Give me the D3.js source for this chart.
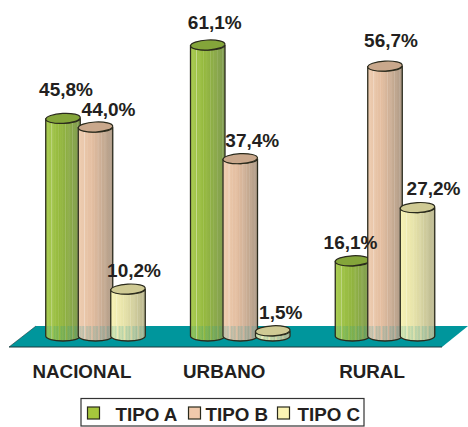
<!DOCTYPE html>
<html><head><meta charset="utf-8">
<script src="https://cdnjs.cloudflare.com/ajax/libs/d3/7.8.5/d3.min.js"></script>
<style>html,body{margin:0;padding:0;background:#fff}svg{display:block}
text{font-family:"Liberation Sans",Arial,sans-serif;font-weight:bold;fill:#231f20}</style>
</head><body><svg id="c" width="468" height="427"></svg>
<script>
const categories = ["NACIONAL","URBANO","RURAL"];
const seriesNames = ["TIPO A","TIPO B","TIPO C"];
const tipoA = [45.8,61.1,16.1];
const tipoB = [44.0,37.4,56.7];
const tipoC = [10.2,1.5,27.2];
const allSeries = [tipoA,tipoB,tipoC];
const bodyLeft = ["#a9cc50","#eecdb0","#f8f3b5"];
const bodyMid = ["#94b83c","#e3bd9f","#e6e2a8"];
const bodyRight = ["#7f9a50","#ad9a86","#b9b68f"];
const capFill = ["#84a53a","#c9a88c","#cfca94"];
const swatchFill = ["#a6c63c","#f0c9ab","#fbf4b4"];
// label nudges relative to the bar centre / top (dx, dy)
const labelDx = [[3,13,6],[7,12,8],[-2,6,16]];
const labelDy = [[-22,-11,-12],[-16,-12,-12],[-12,-19,-13]];
const catDx = [-13.5,-16,-13];
const stripes = [0,.1,.05,.9,.1,.2,.05,.3,.1,.2,.05,.4,.1,.3,.05,.35,.1,.05,.3,.1];

const svg = d3.select("#c");
const x = d3.scalePoint().domain(categories).range([95.5,385]);
const off = d3.scalePoint().domain(seriesNames).range([-32.5,32.5]);
const y = d3.scaleLinear().domain([0,61.1]).range([338,45]);
const rx=17.25, ry=5, baseY=336, tilt=-3;
const floorTop=326, floorBot=347;

const defs = svg.append("defs");
seriesNames.forEach((s,i)=>{
  const g = defs.append("linearGradient").attr("id","g"+i);
  const ramp = d3.scaleLinear().domain([0,.4,1]).range([bodyLeft[i],bodyMid[i],bodyRight[i]]);
  g.selectAll("stop").data(d3.range(0,41)).enter().append("stop")
    .attr("offset",d=>d/40)
    .attr("stop-color",d=>{
      const t=d/40, c=ramp(t), k=stripes[Math.floor(d/2)%stripes.length];
      return d3.interpolateRgb(c,d%2?"#fff":c)(k*.45);
    });
});
const floorG = defs.append("linearGradient").attr("id","fl");
d3.range(0,21).forEach(d=>floorG.append("stop").attr("offset",d/20)
  .attr("stop-color","#0a9aa0").attr("stop-opacity",d%2?.22:.06*(d%4)));

svg.append("path").attr("d",d3.line()([[9,floorBot],[36,floorTop],[468,floorTop],[442,floorBot]])+"Z")
  .attr("fill","#00969c");
svg.append("path").attr("d",d3.line()([[9,floorBot],[442,floorBot]])).attr("stroke","#1d3a3e").attr("stroke-width",1.2);
svg.append("path").attr("d",d3.line()([[9,floorBot],[36,floorTop]])).attr("stroke","#1d3a3e").attr("stroke-width",.6);

categories.forEach((cat,ci)=>{
  seriesNames.forEach((s,si)=>{
    const v=allSeries[si][ci], cx=x(cat)+off(s), ty=y(v);
    const l=cx-rx, r=cx+rx;
    const d=`M${l},${ty}L${l},${baseY}A${rx},${ry} 0 0 0 ${r},${baseY}L${r},${ty}A${rx},${ry} 0 0 1 ${l},${ty}Z`;
    const g=svg.append("g");
    g.append("path").attr("d",d).attr("fill",`url(#g${si})`);
    const ft=Math.max(ty,floorTop);
    g.append("path").attr("d",`M${l},${ft}L${l},${baseY}A${rx},${ry} 0 0 0 ${r},${baseY}L${r},${ft}Z`).attr("fill","url(#fl)");
    g.append("path").attr("d",d).attr("fill","none").attr("stroke","#2a2a1c").attr("stroke-width",1.3);
    g.append("ellipse").attr("cx",cx).attr("cy",ty).attr("rx",rx).attr("ry",ry)
      .attr("transform",`rotate(${tilt} ${cx} ${ty})`)
      .attr("fill",capFill[si]).attr("stroke","#2a2a1c").attr("stroke-width",1.2);
  });
});
categories.forEach((cat,ci)=>{
  seriesNames.forEach((s,si)=>{
    const v=allSeries[si][ci];
    svg.append("text").attr("x",x(cat)+off(s)+labelDx[ci][si]).attr("y",y(v)+labelDy[ci][si])
      .attr("text-anchor","middle").attr("font-size",19).text(v.toFixed(1).replace(".",",")+"%");
  });
  svg.append("text").attr("x",x(cat)+catDx[ci]).attr("y",377.5).attr("text-anchor","middle").attr("font-size",18.8).text(cat);
});

svg.append("rect").attr("x",81).attr("y",398.5).attr("width",283).attr("height",27.5)
  .attr("fill","#fff").attr("stroke","#333").attr("stroke-width",1.2);
const swX=[87.5,188.5,277.5], txX=[115.5,205.5,297.5];
seriesNames.forEach((s,i)=>{
  svg.append("rect").attr("x",swX[i]).attr("y",407).attr("width",12).attr("height",12)
    .attr("fill",swatchFill[i]).attr("stroke","#2a2a1c").attr("stroke-width",1.2);
  svg.append("text").attr("x",txX[i]).attr("y",421).attr("font-size",18.8).text(s);
});
</script></body></html>
